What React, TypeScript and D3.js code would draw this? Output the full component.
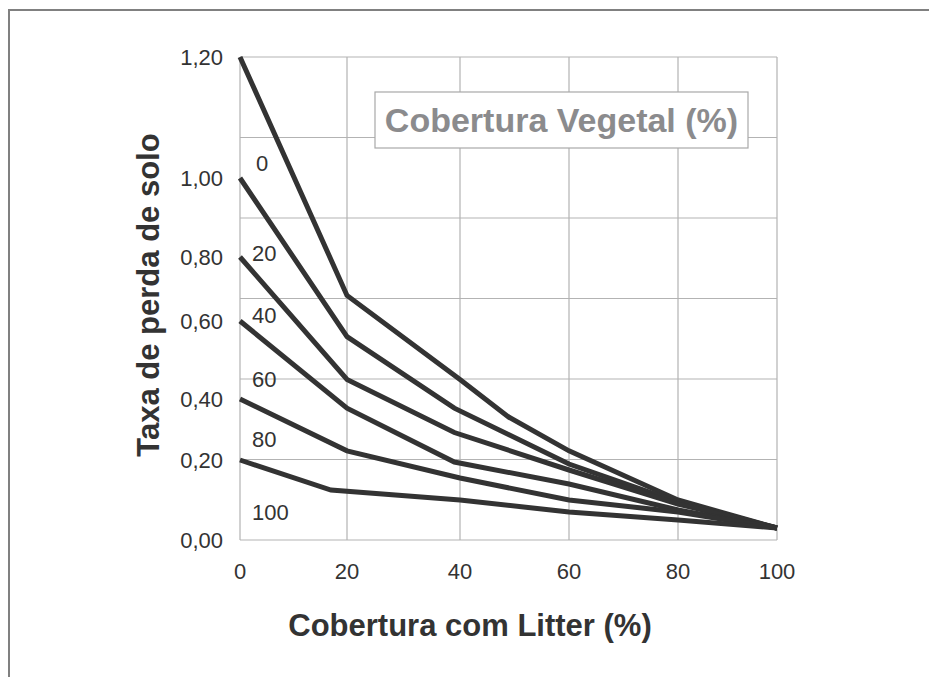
import { useEffect, useRef } from "react"
import * as d3 from "d3"

// cobertura com litter (%) - x axis ticks
const litter = [0, 20, 40, 60, 80, 100]
// taxa de perda de solo - y axis ticks
const taxaTicks = [0, 0.2, 0.4, 0.6, 0.8, 1.0, 1.2]

// one series per cobertura vegetal (%), points are [litter, taxa]
const veg0 = [[0, 1.2], [20, 0.68], [40, 0.45], [49, 0.34], [60, 0.23], [80, 0.1], [100, 0.03]]
const veg20 = [[0, 1.0], [20, 0.56], [39, 0.37], [60, 0.19], [80, 0.095], [100, 0.03]]
const veg40 = [[0, 0.8], [20, 0.45], [39, 0.29], [60, 0.175], [80, 0.09], [100, 0.03]]
const veg60 = [[0, 0.6], [20, 0.37], [39, 0.195], [60, 0.14], [80, 0.075], [100, 0.03]]
const veg80 = [[0, 0.4], [20, 0.23], [40, 0.155], [60, 0.1], [80, 0.07], [100, 0.03]]
const veg100 = [[0, 0.2], [17, 0.125], [40, 0.1], [60, 0.07], [80, 0.05], [100, 0.03]]

const seriesNames = ["0", "20", "40", "60", "80", "100"]
// where each curve label sits on the y axis
const labelAt = [1.025, 0.81, 0.62, 0.45, 0.27, 0.07]

const allSeries = [veg0, veg20, veg40, veg60, veg80, veg100]

const FONT = "'Liberation Sans', Arial, Helvetica, sans-serif"

const App = () => {
    const ref = useRef<SVGSVGElement>(null)

    useEffect(() => {
        const svg = d3.select(ref.current)
        svg.selectAll("*").remove()

        // the original drawing is hand laid out, so both scales are piecewise
        const x = d3.scaleLinear().domain(litter).range([240, 347, 460, 569, 678, 777])
        const y = d3.scaleLinear().domain(taxaTicks).range([540, 460, 399, 321, 257, 178, 57])
        const grid = d3.scaleLinear().domain([0, 6]).range([540, 57])

        const comma = (v: number) => d3.format(".2f")(v).replace(".", ",")

        // outer frame (top and left edges only)
        svg.append("path")
            .attr("d", "M9,677 L9,10 L929,10")
            .attr("fill", "none")
            .attr("stroke", "#808080")
            .attr("stroke-width", 2)

        const g = svg.append("g")

        // grid
        g.selectAll(".hgrid")
            .data(d3.range(7))
            .enter()
            .append("line")
            .attr("x1", x(0))
            .attr("x2", x(100))
            .attr("y1", d => grid(d))
            .attr("y2", d => grid(d))
            .attr("stroke", "#b3b3b3")
            .attr("stroke-width", 1.2)

        g.selectAll(".vgrid")
            .data(litter)
            .enter()
            .append("line")
            .attr("x1", d => x(d))
            .attr("x2", d => x(d))
            .attr("y1", grid(0))
            .attr("y2", grid(6))
            .attr("stroke", "#b3b3b3")
            .attr("stroke-width", 1.2)

        // legend box
        g.append("rect")
            .attr("x", 375)
            .attr("y", 92)
            .attr("width", 373)
            .attr("height", 56)
            .attr("fill", "#fff")
            .attr("stroke", "#a8a8a8")
            .attr("stroke-width", 1.2)
        g.append("text")
            .attr("x", 561.5)
            .attr("y", 132)
            .attr("text-anchor", "middle")
            .attr("font-family", FONT)
            .attr("font-weight", "bold")
            .attr("font-size", 34)
            .attr("fill", "#8b8b8d")
            .text("Cobertura Vegetal (%)")

        // tick labels
        g.selectAll(".ytick")
            .data(taxaTicks)
            .enter()
            .append("text")
            .attr("x", 223)
            .attr("y", d => y(d))
            .attr("dy", "0.36em")
            .attr("text-anchor", "end")
            .attr("font-family", FONT)
            .attr("font-size", 22)
            .attr("fill", "#333")
            .text(d => comma(d))

        g.selectAll(".xtick")
            .data(litter)
            .enter()
            .append("text")
            .attr("x", d => x(d))
            .attr("y", 579)
            .attr("text-anchor", "middle")
            .attr("font-family", FONT)
            .attr("font-size", 22)
            .attr("fill", "#333")
            .text(d => d)

        // curves
        const line = d3.line<number[]>()
            .x(d => x(d[0]))
            .y(d => y(d[1]))

        g.selectAll(".curve")
            .data(allSeries)
            .enter()
            .append("path")
            .attr("d", d => line(d))
            .attr("fill", "none")
            .attr("stroke", "#333")
            .attr("stroke-width", 5)
            .attr("stroke-linejoin", "miter")

        g.selectAll(".curve-label")
            .data(seriesNames)
            .enter()
            .append("text")
            .attr("x", (d) => (d.length === 1 ? x(0) + 16 : x(0) + 12))
            .attr("y", (_, i) => y(labelAt[i]))
            .attr("dy", "0.36em")
            .attr("font-family", FONT)
            .attr("font-size", 22)
            .attr("fill", "#333")
            .text(d => d)

        // axis titles
        g.append("text")
            .attr("x", 470)
            .attr("y", 636)
            .attr("text-anchor", "middle")
            .attr("font-family", FONT)
            .attr("font-weight", "bold")
            .attr("font-size", 31)
            .attr("fill", "#333")
            .text("Cobertura com Litter (%)")

        g.append("text")
            .attr("transform", "translate(159,295) rotate(-90)")
            .attr("text-anchor", "middle")
            .attr("font-family", FONT)
            .attr("font-weight", "bold")
            .attr("font-size", 31)
            .attr("fill", "#333")
            .text("Taxa de perda de solo")
    }, [])

    return (
        <svg
            ref={ref}
            width={929}
            height={677}
            style={{ position: "absolute", left: 0, top: 0, background: "#fff" }}
        ></svg>
    )
}

export default App
